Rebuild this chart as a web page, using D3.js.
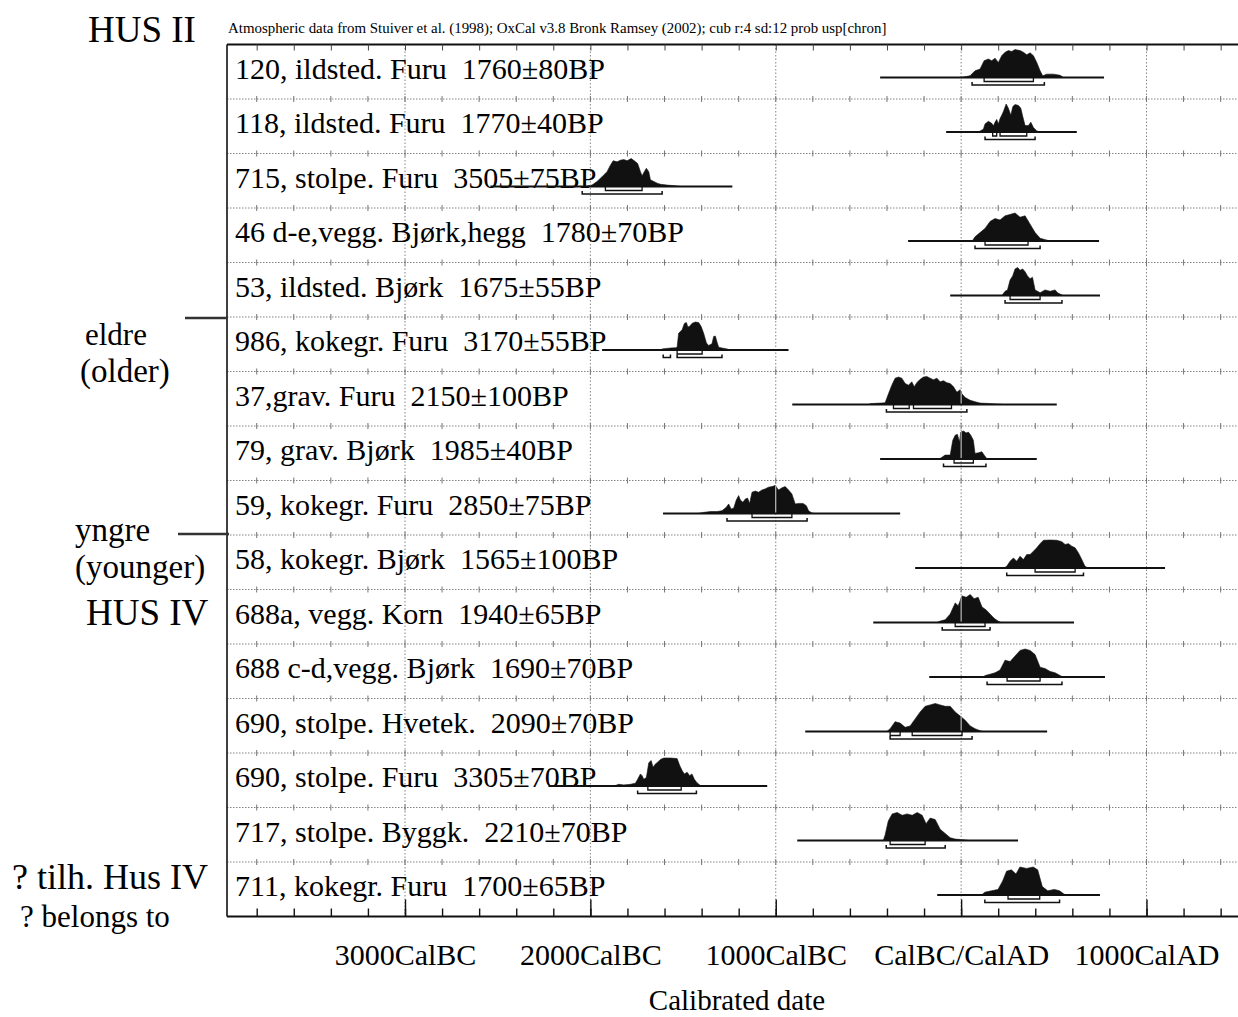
<!DOCTYPE html>
<html>
<head>
<meta charset="utf-8">
<script src="https://cdn.jsdelivr.net/npm/d3@7"></script>
<style>
  html, body { margin: 0; padding: 0; background: #fff; }
  svg { display: block; }
  text { font-family: "Liberation Serif", "Times New Roman", serif; fill: #000; white-space: pre; }
</style>
</head>
<body>
<svg id="chart" width="1238" height="1017"></svg>
<script>
// ---- Sample labels (one row per dated sample) ----
const labels = [
  "120, ildsted. Furu  1760±80BP",
  "118, ildsted. Furu  1770±40BP",
  "715, stolpe. Furu  3505±75BP",
  "46 d-e,vegg. Bjørk,hegg  1780±70BP",
  "53, ildsted. Bjørk  1675±55BP",
  "986, kokegr. Furu  3170±55BP",
  "37,grav. Furu  2150±100BP",
  "79, grav. Bjørk  1985±40BP",
  "59, kokegr. Furu  2850±75BP",
  "58, kokegr. Bjørk  1565±100BP",
  "688a, vegg. Korn  1940±65BP",
  "688 c-d,vegg. Bjørk  1690±70BP",
  "690, stolpe. Hvetek.  2090±70BP",
  "690, stolpe. Furu  3305±70BP",
  "717, stolpe. Byggk.  2210±70BP",
  "711, kokegr. Furu  1700±65BP"
];

// Extent of each calibration line (calendar years, BC negative)
const spans = [
  [-437, 771], [-81, 624], [-2539, -1234], [-286, 744],
  [-59, 749], [-1937, -931], [-911, 516], [-437, 408],
  [-1608, -329], [-248, 1100], [-474, 609], [-172, 776],
  [-841, 464], [-2226, -1046], [-884, 307], [-129, 749]
];

// 68.2% probability ranges
const range68 = [
  [[124, 390]], [[170, 192], [210, 354]], [[-1919, -1721]], [[129, 361]],
  [[264, 426]], [[-1532, -1397]], [[-365, -280], [-257, -52]], [[-38, 66]],
  [[-1128, -913]], [[399, 615]], [[-32, 129]], [[248, 426]],
  [[-383, -329], [-264, 5]], [[-1690, -1510]], [[-383, -194]], [[253, 424]]
];

// 95.4% probability ranges
const range95 = [
  [[59, 449]], [[129, 399]], [[-2044, -1613]], [[75, 426]],
  [[237, 544]], [[-1607, -1568], [-1532, -1290]], [[-403, 31]], [[-95, 134]],
  [[-1263, -831]], [[246, 660]], [[-102, 156]], [[140, 544]],
  [[-383, 59]], [[-1745, -1428]], [[-404, -86]], [[128, 531]]
];

// Calibrated probability distributions: [calendar year, relative probability]
const dists = [
  [[0,0],[48,.06],[75,.24],[102,.30],[124,.60],[147,.66],[165,.60],[183,.69],[201,.54],[219,.78],[237,.90],[255,.96],[273,.93],[291,1],[318,.96],[336,.90],[354,.81],[372,.88],[390,.78],[408,.54],[426,.24],[440,.06],[462,.12],[498,.12],[534,.08],[552,0]],
  [[93,0],[120,.10],[129,.29],[147,.38],[165,.31],[174,.22],[183,.35],[192,.45],[201,.29],[210,.48],[219,.60],[228,.73],[243,1],[255,.85],[268,.60],[279,.91],[291,.98],[309,.95],[322,.85],[333,.54],[345,.23],[363,.23],[376,.35],[390,.16],[408,.04],[426,0]],
  [[-2030,0],[-1991,.05],[-1964,.18],[-1937,.35],[-1910,.53],[-1892,.76],[-1877,.92],[-1856,.88],[-1838,.94],[-1820,.96],[-1802,.92],[-1780,1],[-1763,.92],[-1745,.82],[-1730,.53],[-1721,.38],[-1709,.53],[-1698,.65],[-1685,.53],[-1676,.24],[-1658,.18],[-1640,.12],[-1622,.08],[-1586,.05],[-1532,.02],[-1515,0]],
  [[60,0],[75,.15],[102,.30],[129,.45],[156,.70],[183,.80],[210,.75],[237,.90],[264,.95],[291,1],[318,.85],[345,.90],[372,.60],[399,.30],[426,.10],[469,.02],[500,0]],
  [[220,0],[237,.15],[250,.20],[264,.55],[278,.70],[291,.95],[305,1],[318,.90],[332,.95],[345,.85],[358,.70],[372,.60],[385,.65],[399,.20],[412,.15],[426,.10],[453,.20],[480,.15],[507,.20],[520,.10],[534,.05],[550,0]],
  [[-1620,0],[-1613,.04],[-1568,.07],[-1540,.08],[-1532,.10],[-1524,.60],[-1505,.72],[-1493,.95],[-1482,.98],[-1474,.82],[-1464,.85],[-1452,.95],[-1434,1],[-1416,.98],[-1403,.85],[-1389,.60],[-1374,.25],[-1362,.16],[-1344,.22],[-1335,.48],[-1326,.50],[-1317,.29],[-1308,.10],[-1290,.07],[-1263,.04],[-1250,0]],
  [[-500,0],[-490,.03],[-410,.06],[-392,.38],[-374,.69],[-356,.94],[-338,.98],[-320,.94],[-302,.75],[-284,.69],[-266,.81],[-253,.63],[-239,.78],[-221,.90],[-203,.98],[-185,1],[-167,.94],[-149,.88],[-131,.94],[-113,.81],[-95,.85],[-77,.78],[-59,.75],[-41,.63],[-23,.44],[-5,.53],[4,.38],[22,.25],[49,.15],[75,.10],[102,.05],[138,.04],[210,.01],[230,0]],
  [[-130,0],[-113,.02],[-86,.14],[-59,.14],[-45,.67],[-32,.85],[-20,.88],[-9,.61],[-2,.96],[13,1],[27,.93],[39,.96],[52,.85],[66,.67],[75,.20],[93,.22],[112,.26],[124,.14],[138,.02],[150,0]],
  [[-1420,0],[-1389,.04],[-1353,.07],[-1317,.07],[-1290,.10],[-1267,.22],[-1254,.34],[-1241,.16],[-1227,.19],[-1213,.48],[-1200,.64],[-1191,.48],[-1177,.40],[-1164,.52],[-1152,.55],[-1141,.36],[-1128,.76],[-1110,.80],[-1093,.76],[-1074,.84],[-1056,.88],[-1039,.94],[-1020,.96],[-1003,1],[-985,.84],[-966,.92],[-949,.96],[-931,.84],[-913,.70],[-895,.34],[-877,.36],[-853,.36],[-835,.28],[-823,.10],[-805,.02],[-790,0]],
  [[230,0],[246,.06],[264,.24],[282,.36],[300,.24],[318,.42],[336,.30],[354,.48],[372,.48],[390,.60],[408,.72],[426,.87],[444,.99],[480,1],[516,.99],[543,.94],[561,.84],[579,.87],[597,.78],[615,.72],[633,.54],[651,.30],[668,.06],[686,0]],
  [[-130,0],[-113,.05],[-86,.10],[-59,.30],[-32,.70],[-16,.60],[5,.95],[27,.90],[49,1],[70,.85],[92,.90],[113,.55],[135,.45],[156,.30],[178,.15],[199,.05],[215,0]],
  [[120,0],[129,.05],[156,.10],[183,.15],[210,.25],[237,.60],[264,.55],[291,.75],[318,.95],[345,1],[372,.95],[399,.80],[426,.35],[453,.30],[480,.20],[507,.15],[534,.05],[550,0]],
  [[-400,0],[-383,.10],[-356,.35],[-329,.30],[-302,.15],[-275,.20],[-248,.45],[-221,.70],[-194,.90],[-167,.95],[-140,1],[-113,.95],[-86,.90],[-59,.90],[-32,.70],[-5,.55],[22,.40],[49,.20],[75,.10],[102,.03],[120,0]],
  [[-1880,0],[-1865,.02],[-1847,.06],[-1820,.04],[-1784,.06],[-1757,.10],[-1745,.24],[-1730,.43],[-1721,.37],[-1712,.24],[-1698,.30],[-1685,.83],[-1672,.91],[-1662,.67],[-1649,.79],[-1637,.85],[-1622,.95],[-1604,1],[-1568,1],[-1532,.98],[-1518,.73],[-1505,.55],[-1493,.43],[-1478,.49],[-1464,.37],[-1452,.43],[-1439,.24],[-1425,.12],[-1407,.02],[-1389,0]],
  [[-420,0],[-410,.20],[-393,.70],[-372,.95],[-345,1],[-318,.90],[-291,.95],[-264,.90],[-237,1],[-210,.90],[-189,.60],[-167,.80],[-140,.75],[-113,.40],[-86,.25],[-59,.10],[-32,.05],[22,.02],[40,0]],
  [[110,0],[128,.10],[164,.15],[199,.20],[224,.50],[245,.85],[271,.90],[296,.75],[317,1],[353,.95],[389,1],[413,.90],[438,.30],[467,.15],[503,.20],[531,.15],[556,.03],[570,0]]
];

// Axis ticks and labels
const majorYears = [-3000, -2000, -1000, 0, 1000];
const majorLabels = ["3000CalBC", "2000CalBC", "1000CalBC", "CalBC/CalAD", "1000CalAD"];
const minorYears = d3.range(-3800, 1401, 200);

// ---- Layout ----
const W = 1238, H = 1017;
const plotLeft = 227, plotRight = 1238, plotTop = 44.5, rowH = 54.5;
const plotBottom = plotTop + labels.length * rowH;
const baseOffset = 33;   // distribution baseline below each row's top
const peakH = 28;        // height of a distribution's peak

const x = d3.scaleLinear().domain([-3000, 1000]).range([405, 1146.5]);

const svg = d3.select("#chart");
svg.append("rect").attr("width", W).attr("height", H).attr("fill", "#fff");

// ---- Grid ----
const grid = svg.append("g");
// row separators (dotted) with small cross ticks every 200 years
for (let i = 1; i < labels.length; i++) {
  const yy = plotTop + i * rowH;
  grid.append("line")
    .attr("x1", plotLeft).attr("x2", plotRight).attr("y1", yy).attr("y2", yy)
    .attr("stroke", "#777").attr("stroke-width", 0.9).attr("stroke-dasharray", "1.5,1.5");
  grid.selectAll(null).data(minorYears).enter().append("line")
    .attr("x1", d => x(d)).attr("x2", d => x(d))
    .attr("y1", yy - 3).attr("y2", yy + 3)
    .attr("stroke", "#666").attr("stroke-width", 0.9);
}
// vertical dotted gridlines every 1000 years
grid.selectAll(null).data(majorYears).enter().append("line")
  .attr("x1", d => x(d)).attr("x2", d => x(d))
  .attr("y1", plotTop).attr("y2", plotBottom)
  .attr("stroke", "#777").attr("stroke-width", 0.9).attr("stroke-dasharray", "1.5,2");

// ---- Row labels ----
svg.append("g").selectAll("text").data(labels).enter().append("text")
  .attr("x", 235)
  .attr("y", (d, i) => plotTop + i * rowH + baseOffset + 1)
  .attr("font-size", 30)
  .text(d => d);

// ---- Distributions ----
const rows = svg.append("g");
dists.forEach((dist, i) => {
  const b = plotTop + i * rowH + baseOffset;
  const yP = d3.scaleLinear().domain([0, 1]).range([b, b - peakH]);
  const g = rows.append("g");

  g.append("path")
    .attr("d", d3.area().x(d => x(d[0])).y0(b).y1(d => yP(d[1]))(dist))
    .attr("fill", "#111").attr("stroke", "#111").attr("stroke-width", 0.6);

  // the 1000-year gridlines show as thin light lines across the filled shapes
  const lo = dist[0][0], hi = dist[dist.length - 1][0];
  const clipId = "clip" + i;
  g.append("clipPath").attr("id", clipId).append("path")
    .attr("d", d3.area().x(d => x(d[0])).y0(b).y1(d => yP(d[1]))(dist));
  g.selectAll(null).data(majorYears.filter(v => v > lo && v < hi)).enter().append("line")
    .attr("clip-path", `url(#${clipId})`)
    .attr("x1", d => x(d)).attr("x2", d => x(d))
    .attr("y1", b - peakH - 1).attr("y2", b)
    .attr("stroke", "#ddd").attr("stroke-width", 1);

  g.append("line")
    .attr("x1", x(spans[i][0])).attr("x2", x(spans[i][1]))
    .attr("y1", b).attr("y2", b)
    .attr("stroke", "#111").attr("stroke-width", 2);

  // 68.2% brackets
  range68[i].forEach(r => {
    g.append("path")
      .attr("d", `M${x(r[0])},${b}V${b + 4}H${x(r[1])}V${b}`)
      .attr("fill", "none").attr("stroke", "#111").attr("stroke-width", 1.3);
  });
  // 95.4% brackets
  range95[i].forEach(r => {
    g.append("path")
      .attr("d", `M${x(r[0])},${b + 4.5}V${b + 7.5}H${x(r[1])}V${b + 4.5}`)
      .attr("fill", "none").attr("stroke", "#111").attr("stroke-width", 1.5);
  });
});

// ---- Frame ----
svg.append("line").attr("x1", plotLeft).attr("x2", plotRight).attr("y1", plotTop).attr("y2", plotTop)
  .attr("stroke", "#111").attr("stroke-width", 2.2);
svg.append("line").attr("x1", plotLeft).attr("x2", plotLeft).attr("y1", plotTop).attr("y2", plotBottom)
  .attr("stroke", "#111").attr("stroke-width", 1.6);
svg.append("line").attr("x1", plotLeft).attr("x2", plotRight).attr("y1", plotBottom).attr("y2", plotBottom)
  .attr("stroke", "#111").attr("stroke-width", 2.2);

// top ticks pointing down
svg.append("g").attr("transform", `translate(0,${plotTop})`)
  .call(d3.axisBottom(x).tickValues(minorYears).tickSize(6).tickFormat(""))
  .call(g => g.select(".domain").remove())
  .call(g => g.selectAll("line").attr("stroke", "#444"));

// bottom ticks pointing up
const bottomAxis = svg.append("g").attr("transform", `translate(0,${plotBottom})`);
bottomAxis.append("g")
  .call(d3.axisTop(x).tickValues(minorYears).tickSize(8).tickFormat(""))
  .call(g => g.select(".domain").remove())
  .call(g => g.selectAll("line").attr("stroke", "#111").attr("stroke-width", 1.4));
bottomAxis.append("g")
  .call(d3.axisTop(x).tickValues(majorYears).tickSize(17).tickFormat(""))
  .call(g => g.select(".domain").remove())
  .call(g => g.selectAll("line").attr("stroke", "#111").attr("stroke-width", 1.4));
bottomAxis.append("g")
  .call(d3.axisBottom(x).tickValues(majorYears).tickSize(0).tickPadding(27)
    .tickFormat((d, i) => majorLabels[i]))
  .call(g => g.select(".domain").remove())
  .call(g => g.selectAll("text")
    .attr("font-family", '"Liberation Serif","Times New Roman",serif')
    .attr("font-size", 30).attr("fill", "#000"));

svg.append("text").attr("x", 737).attr("y", 1010).attr("text-anchor", "middle")
  .attr("font-size", 29).text("Calibrated date");

// ---- Header ----
svg.append("text").attr("x", 228).attr("y", 33).attr("font-size", 14.9)
  .text("Atmospheric data from Stuiver et al. (1998); OxCal v3.8 Bronk Ramsey (2002); cub r:4 sd:12 prob usp[chron]");

// ---- Group annotations on the left ----
const notes = [
  { t: "HUS II", x: 88, y: 42, s: 37 },
  { t: "eldre", x: 85, y: 345, s: 31 },
  { t: "(older)", x: 80, y: 382, s: 33 },
  { t: "yngre", x: 75, y: 541, s: 33 },
  { t: "(younger)", x: 75, y: 578, s: 33 },
  { t: "HUS IV", x: 86, y: 625, s: 37 },
  { t: "? tilh. Hus IV", x: 12, y: 889, s: 36 },
  { t: "? belongs to", x: 20, y: 927, s: 31 }
];
svg.append("g").selectAll("text").data(notes).enter().append("text")
  .attr("x", d => d.x).attr("y", d => d.y).attr("font-size", d => d.s).text(d => d.t);

// boundary markers between older and younger groups
svg.append("line").attr("x1", 185).attr("x2", plotLeft).attr("y1", 318).attr("y2", 318)
  .attr("stroke", "#333").attr("stroke-width", 2.5);
svg.append("line").attr("x1", 178).attr("x2", plotLeft + 2).attr("y1", 534).attr("y2", 534)
  .attr("stroke", "#333").attr("stroke-width", 2.5);
</script>
</body>
</html>
